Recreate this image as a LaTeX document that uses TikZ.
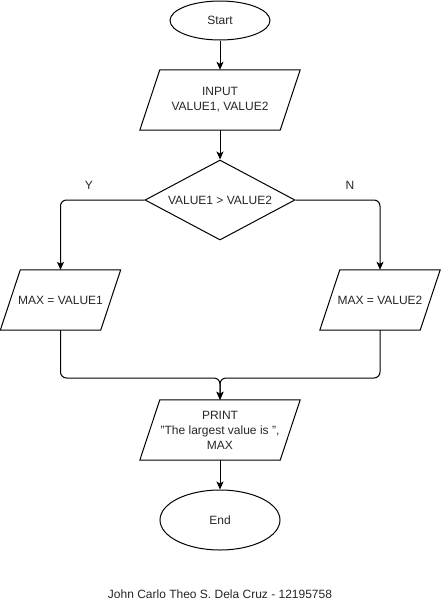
\documentclass[tikz,border=0pt]{standalone}
\usepackage{fontspec}
\setmainfont{Liberation Sans}
\usetikzlibrary{shapes.geometric,arrows.meta,calc}
\begin{document}
\begin{tikzpicture}[x=1pt,y=-1pt,
  every node/.style={font=\fontsize{12}{15}\selectfont, text=black!85},
  term/.style={draw, ellipse, line width=1pt, inner sep=0pt},
  io/.style={rectangle, inner sep=0pt, align=center},
  ioline/.style={line width=1pt, line join=miter},
  dec/.style={draw, diamond, line width=1pt, inner sep=0pt, minimum width=150pt, minimum height=80pt, aspect=1.875},
  flow/.style={line width=1pt, -{Stealth[length=8pt,width=7pt,inset=2pt]}, rounded corners=6pt},
  lbl/.style={inner sep=0pt}]
\useasboundingbox (0,0) rectangle (441,611);
\node[term, minimum width=100pt, minimum height=39pt] (start) at (220,20.5) {Start};
\node[io, minimum width=160pt, minimum height=60pt] (input) at (220,100) {INPUT\\VALUE1, VALUE2};
\node[dec] (cmp) at (220,200) {VALUE1 {>} VALUE2};
\node[io, minimum width=120pt, minimum height=60pt] (m1) at (60.5,300) {MAX = VALUE1};
\node[io, minimum width=120pt, minimum height=60pt] (m2) at (380,300) {MAX = VALUE2};
\node[io, minimum width=160pt, minimum height=60pt] (print) at (220,430) {PRINT\\"The largest value is ",\\MAX};
\node[term, minimum width=120pt, minimum height=60pt] (end) at (220,520) {End};
\node[lbl] (y) at (89,185) {Y};
\node[lbl] (n) at (350,185) {N};
\node[lbl] (foot) at (220,594) {John Carlo Theo S. Dela Cruz - 12195758};
\foreach \p in {input,m1,m2,print}{
  \draw[ioline] ($(\p.north west)+(20,0)$) -- (\p.north east) -- ($(\p.south east)+(-20,0)$) -- (\p.south west) -- cycle;
}
\coordinate (merge) at (220,378);
\draw[flow] (start) -- (input);
\draw[flow] (input) -- (cmp);
\draw[flow] (cmp.west) -| (m1);
\draw[flow] (cmp.east) -| (m2);
\draw[flow] (m1) |- (merge) -- (print);
\draw[flow] (m2) |- (merge) -- (print);
\draw[flow] (print) -- (end);
\end{tikzpicture}
\end{document}
